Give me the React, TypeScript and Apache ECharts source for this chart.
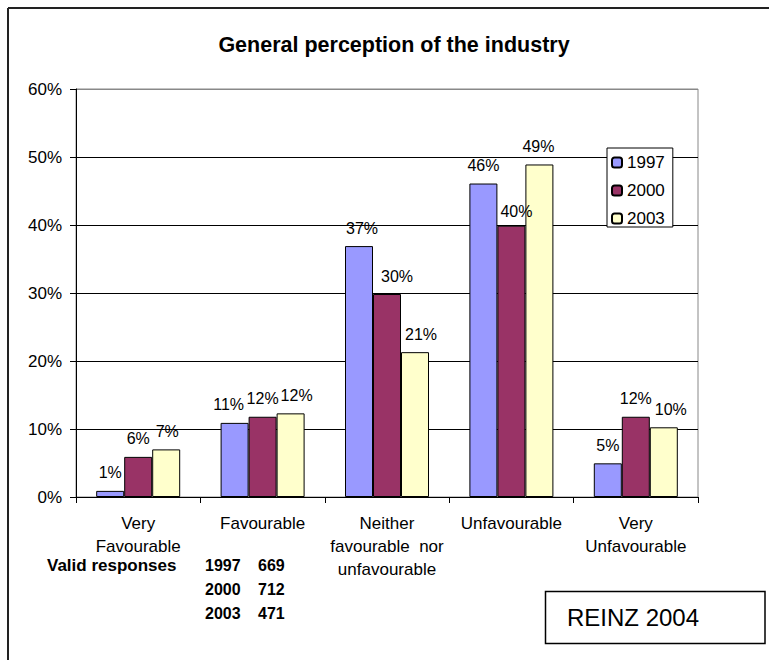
import React, { useEffect, useRef } from "react";
import * as echarts from "echarts";

const categories = [
  "Very\nFavourable",
  "Favourable",
  "Neither\nfavourable  nor\nunfavourable",
  "Unfavourable",
  "Very\nUnfavourable",
];
const seriesNames = ["1997", "2000", "2003"];
const values1997 = [0.9, 10.9, 36.9, 46.1, 4.95];
const values2000 = [5.9, 11.8, 29.85, 39.9, 11.8];
const values2003 = [7.0, 12.3, 21.3, 48.9, 10.25];
const seriesValues = [values1997, values2000, values2003];
const colors = ["#9999FF", "#993366", "#FFFFCC"];
const yMin = 0;
const yMax = 60;
const yInterval = 10;
const responseYears = ["1997", "2000", "2003"];
const responseCounts = ["669", "712", "471"];
const titleText = "General perception of the industry";
const sourceText = "REINZ 2004";

// label nudges (dx, dy) per series per category, mimicking the hand-placed labels
const labelNudges1997 = [[0, 0], [-6, 0], [3, 0], [0, 0], [0, 0]];
const labelNudges2000 = [[0, 0], [0, 0], [10, 0], [5, 4], [0, 0]];
const labelNudges2003 = [[1, 0], [6, 0], [6, 0], [-1, 0], [7, 0]];
const labelNudges = [labelNudges1997, labelNudges2000, labelNudges2003];

const FONT = "'Liberation Sans', Arial, sans-serif";

function txt(text: string, x: number, y: number, size: number, weight: string, align: string) {
  return {
    type: "text",
    x,
    y,
    silent: true,
    style: {
      text,
      fill: "#000",
      fontFamily: FONT,
      fontSize: size,
      fontWeight: weight,
      align,
      verticalAlign: "middle",
      textAlign: align,
      textVerticalAlign: "middle",
    },
  };
}

export default function App() {
  const ref = useRef<HTMLDivElement>(null);
  useEffect(() => {
    if (!ref.current) return;
    const chart = echarts.init(ref.current, null, { renderer: "svg" });
    const graphics: any[] = [
      {
        type: "line",
        silent: true,
        shape: { x1: 8, y1: 8, x2: 769, y2: 8 },
        style: { stroke: "#222", lineWidth: 2 },
      },
      {
        type: "line",
        silent: true,
        shape: { x1: 8, y1: 8, x2: 8, y2: 660 },
        style: { stroke: "#222", lineWidth: 2 },
      },
      txt(titleText, 394, 45, 21.5, "bold", "center"),
      txt("Valid responses", 47, 565, 17, "bold", "left"),
      {
        type: "rect",
        silent: true,
        shape: { x: 545.5, y: 591.5, width: 219.5, height: 52 },
        style: { fill: "#fff", stroke: "#000", lineWidth: 1.5 },
      },
      txt(sourceText, 567, 617, 24, "normal", "left"),
    ];
    responseYears.forEach((yr, i) => {
      graphics.push(txt(yr, 205, 565 + i * 24, 16, "bold", "left"));
      graphics.push(txt(responseCounts[i], 258, 565 + i * 24, 16, "bold", "left"));
    });

    chart.setOption({
      animation: false,
      backgroundColor: "#fff",
      textStyle: { fontFamily: FONT },
      grid: {
        left: 76,
        top: 89,
        width: 622,
        height: 408,
        show: true,
        borderColor: "#888",
        borderWidth: 1,
        backgroundColor: "transparent",
      },
      legend: {
        data: seriesNames,
        orient: "vertical",
        left: 607,
        top: 148,
        itemWidth: 10,
        itemHeight: 10,
        itemGap: 11,
        padding: [6, 8, 0, 4],
        backgroundColor: "#fff",
        borderColor: "#000",
        borderWidth: 1,
        borderRadius: 0,
        textStyle: { fontSize: 17, lineHeight: 17, color: "#000", fontFamily: FONT },
      },
      xAxis: {
        type: "category",
        data: categories,
        axisLine: { show: true, lineStyle: { color: "#000", width: 1 } },
        axisTick: { show: true, length: 6, lineStyle: { color: "#000" } },
        axisLabel: {
          interval: 0,
          fontSize: 17,
          lineHeight: 23,
          margin: 15,
          color: "#000",
          fontFamily: FONT,
        },
        splitLine: { show: false },
      },
      yAxis: {
        type: "value",
        min: yMin,
        max: yMax,
        interval: yInterval,
        axisLine: { show: true, lineStyle: { color: "#000", width: 1 } },
        axisTick: { show: true, length: 6, lineStyle: { color: "#000" } },
        axisLabel: {
          formatter: "{value}%",
          fontSize: 17,
          margin: 14,
          color: "#000",
          fontFamily: FONT,
        },
        splitLine: {
          show: true,
          lineStyle: {
            color: ["#000", "#000", "#000", "#000", "#000", "#000", "#888"],
            width: 1,
          },
        },
      },
      series: seriesNames.map((name, i) => ({
        name,
        type: "bar",
        data: seriesValues[i].map((v, j) => ({
          value: v,
          label: { offset: labelNudges[i][j] },
        })),
        barWidth: 28,
        barGap: "0%",
        itemStyle: { color: colors[i], borderColor: "#000", borderWidth: 1 },
        label: {
          show: true,
          position: "top",
          distance: 10,
          fontSize: 16,
          color: "#000",
          fontFamily: FONT,
          formatter: (p: any) => Math.round(p.value) + "%",
        },
      })),
      graphic: graphics,
    });
    return () => chart.dispose();
  }, []);
  return (
    <div
      ref={ref}
      style={{ position: "fixed", left: 0, top: 0, width: 769, height: 660 }}
    />
  );
}
